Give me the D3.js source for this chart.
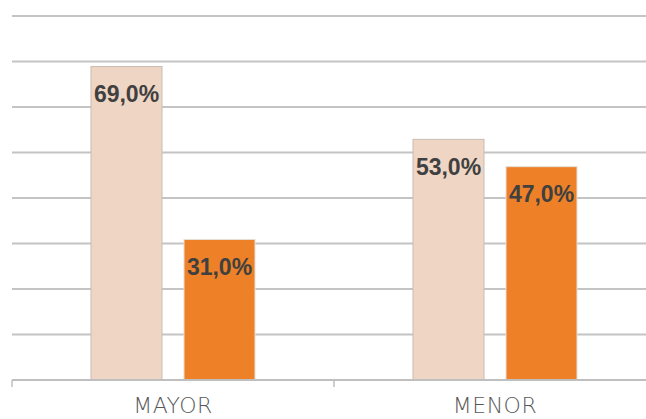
<!DOCTYPE html>
<html>
<head>
<meta charset="utf-8">
<script src="https://cdn.jsdelivr.net/npm/d3@7"></script>
<style>
  body { margin: 0; background: #fff; }
  svg { display: block; }
</style>
</head>
<body>
<script>
// data
var categories = ['MAYOR', 'MENOR'];
var series_names = ['serie1', 'serie2'];
var series1_values = [69.0, 53.0];
var series2_values = [31.0, 47.0];
var y_ticks = [0, 10, 20, 30, 40, 50, 60, 70, 80];

var width = 646, height = 419;
var left = 12, right = 656, top_y = 16, bottom_y = 380;
var colors = ['#efd5c3', '#ee8127'];

var svg = d3.select('body').append('svg').attr('width', width).attr('height', height);

var x_scale = d3.scaleBand().domain(categories).range([left, right]);
var y_scale = d3.scaleLinear().domain([0, 80]).range([bottom_y, top_y]);

// gridlines
svg.append('g').selectAll('line').data(y_ticks.slice(1)).enter().append('line')
  .attr('x1', left).attr('x2', width)
  .attr('y1', d => y_scale(d)).attr('y2', d => y_scale(d))
  .attr('stroke', '#c4c4c4').attr('stroke-width', 2);

// grouped bars
var bar_w = 72, gap = 21;
var rows = [];
for (var i = 0; i < categories.length; i++) {
  rows.push({cat: categories[i], s: 0, v: series1_values[i]});
  rows.push({cat: categories[i], s: 1, v: series2_values[i]});
}
function bar_x(d) {
  var c = x_scale(d.cat) + x_scale.bandwidth() / 2;
  var total = 2 * bar_w + gap;
  return c - total / 2 + d.s * (bar_w + gap);
}

svg.append('g').selectAll('rect').data(rows).enter().append('rect')
  .attr('x', d => bar_x(d) + 0.5)
  .attr('y', d => y_scale(d.v) + 0.5)
  .attr('width', bar_w - 1)
  .attr('height', d => bottom_y - y_scale(d.v) - 0.5)
  .attr('fill', d => colors[d.s])
  .attr('stroke', d => d.s == 0 ? '#c9bcb2' : '#e5e0da')
  .attr('stroke-width', 1);

// value labels
svg.append('g').selectAll('text').data(rows).enter().append('text')
  .attr('x', d => bar_x(d) + bar_w / 2)
  .attr('y', d => y_scale(d.v) + 36)
  .attr('text-anchor', 'middle')
  .style('font-family', '"Liberation Sans", Arial, sans-serif')
  .style('font-weight', 'bold')
  .style('font-size', '23px')
  .style('fill', '#404040')
  .text(d => d.v.toFixed(1).replace('.', ',') + '%');

// category axis
var axis = svg.append('g').attr('transform', 'translate(0,' + bottom_y + ')')
  .call(d3.axisBottom(x_scale).tickSize(0).tickPadding(0).tickFormat(''));
axis.select('.domain').remove();
axis.append('line').attr('x1', left).attr('x2', width).attr('y1', 0).attr('y2', 0)
  .attr('stroke', '#bfbfbf').attr('stroke-width', 2);
axis.selectAll('.bnd').data(categories.concat(['end'])).enter().append('line')
  .attr('x1', (d, i) => left + i * x_scale.bandwidth())
  .attr('x2', (d, i) => left + i * x_scale.bandwidth())
  .attr('y1', 0).attr('y2', 7)
  .attr('stroke', '#bfbfbf').attr('stroke-width', 1.5);

svg.append('g').selectAll('text').data(categories).enter().append('text')
  .attr('x', d => x_scale(d) + x_scale.bandwidth() / 2)
  .attr('y', 413)
  .attr('text-anchor', 'middle')
  .style('font-family', '"DejaVu Sans", sans-serif')
  .style('font-weight', '200')
  .style('font-size', '22px')
  .style('letter-spacing', '0.5px')
  .style('fill', '#595959')
  .text(d => d);
</script>
</body>
</html>
